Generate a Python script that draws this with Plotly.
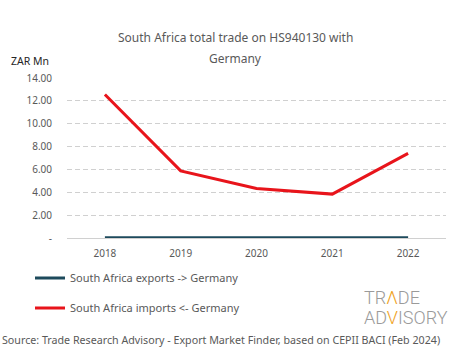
import plotly.graph_objects as go

years = ["2018", "2019", "2020", "2021", "2022"]
exports_vals = [0.02, 0.03, 0.01, 0.02, 0.03]
imports_vals = [12.56, 5.87, 4.34, 3.84, 7.40]
y_tick_vals = [0, 2, 4, 6, 8, 10, 12, 14]
y_tick_text = ["-", "2.00", "4.00", "6.00", "8.00", "10.00", "12.00", "14.00"]

FONT = "Noto Sans"
GREY = "#595959"

fig = go.Figure()
fig.add_trace(go.Scatter(x=years, y=exports_vals, mode="lines",
                         name="South Africa exports -> Germany",
                         line=dict(color="#1d4a5c", width=3),
                         legendgroup="a"))
fig.add_trace(go.Scatter(x=years, y=imports_vals, mode="lines",
                         name="South Africa imports <- Germany",
                         line=dict(color="#e8141b", width=3),
                         legendgroup="b"))

W, H = 465, 359
L, R, T, B = 67, 19, 77.5, 120.7


def px_to_paper_x(px):
    return (px - L) / (W - L - R)


def px_to_paper_y(py):
    return (H - B - py) / (H - T - B)


fig.update_layout(
    width=W, height=H,
    margin=dict(l=L, r=R, t=T, b=B, autoexpand=False),
    paper_bgcolor="white", plot_bgcolor="white",
    font=dict(family=FONT, color=GREY, size=10),
    showlegend=True,
    legend=dict(x=px_to_paper_x(30), y=px_to_paper_y(264), xanchor="left", yanchor="top",
                orientation="v", tracegroupgap=11,
                font=dict(size=11, color=GREY),
                bgcolor="rgba(0,0,0,0)"),
    xaxis=dict(type="category", range=[-0.5, 4.5], showgrid=False, showline=False,
               zeroline=False, ticks="", tickfont=dict(size=10, color=GREY),
               ticklabelstandoff=8),
    yaxis=dict(range=[0, 14], tickvals=y_tick_vals, ticktext=y_tick_text,
               showgrid=True, gridcolor="#d0d0d0", griddash="5px,3px", gridwidth=1,
               zeroline=True, zerolinecolor="#d0d0d0", zerolinewidth=1,
               showline=False, ticks="", tickfont=dict(size=10, color=GREY),
               ticklabelstandoff=14),
)

fig.add_annotation(text="South Africa total trade on HS940130 with",
                   xref="paper", yref="paper", x=px_to_paper_x(235), y=px_to_paper_y(37),
                   yanchor="middle", xanchor="center", showarrow=False,
                   font=dict(size=12, color=GREY, family=FONT))
fig.add_annotation(text="Germany",
                   xref="paper", yref="paper", x=px_to_paper_x(235), y=px_to_paper_y(58),
                   yanchor="middle", xanchor="center", showarrow=False,
                   font=dict(size=12, color=GREY, family=FONT))

fig.add_annotation(text="ZAR Mn", xref="paper", yref="paper",
                   x=px_to_paper_x(9), y=px_to_paper_y(60), xanchor="left", yanchor="middle",
                   showarrow=False, font=dict(size=10.5, color="#262626", family=FONT))

fig.add_annotation(text="Source: Trade Research Advisory - Export Market Finder, based on CEPII BACI (Feb 2024)",
                   xref="paper", yref="paper",
                   x=px_to_paper_x(0), y=px_to_paper_y(341), xanchor="left", yanchor="middle",
                   showarrow=False, font=dict(size=10.7, color=GREY, family=FONT))

fig.add_annotation(text="TR<span style='color:#f0a21c'>Λ</span>DE",
                   xref="paper", yref="paper",
                   x=px_to_paper_x(362), y=px_to_paper_y(298), xanchor="left", yanchor="middle",
                   showarrow=False, font=dict(size=18, color="#9a9a9a", family="Roboto", weight=300))
fig.add_annotation(text="AD<span style='color:#f0a21c'>V</span>ISORY",
                   xref="paper", yref="paper",
                   x=px_to_paper_x(362), y=px_to_paper_y(318), xanchor="left", yanchor="middle",
                   showarrow=False, font=dict(size=18, color="#9a9a9a", family="Roboto", weight=300))

fig.write_html("out.html", config={"displayModeBar": False},
               post_script="document.body.style.margin='0';document.body.style.overflow='hidden';")
